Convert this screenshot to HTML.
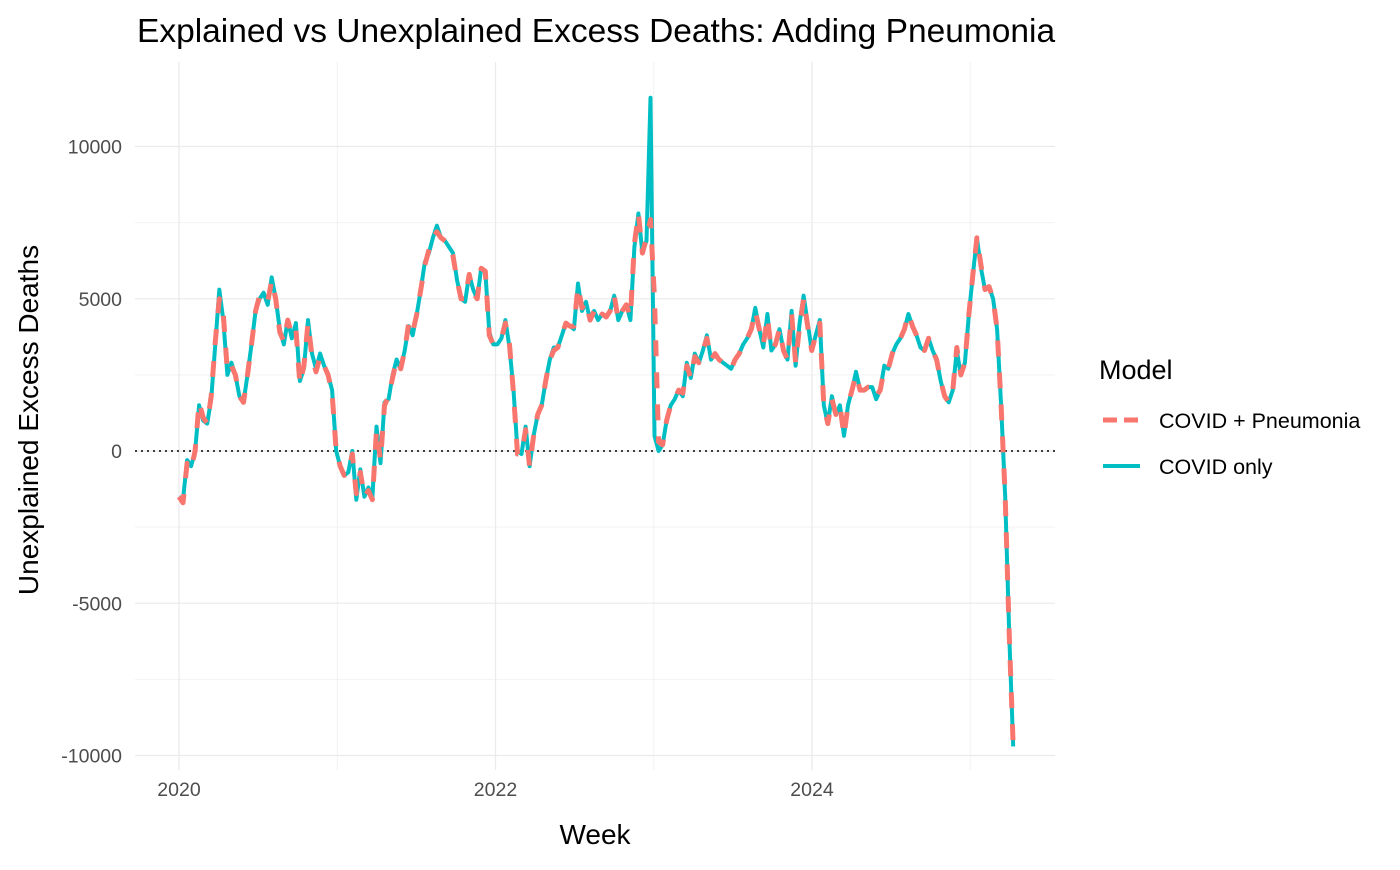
<!DOCTYPE html>
<html><head><meta charset="utf-8"><style>
body{margin:0;background:#fff;font-family:"Liberation Sans",Arial,sans-serif}
</style></head><body>
<svg id="chart" width="1400" height="865" xmlns="http://www.w3.org/2000/svg" style="font-family:'Liberation Sans',Arial,sans-serif">
<text x="137" y="42" font-size="33.5" fill="#000">Explained vs Unexplained Excess Deaths: Adding Pneumonia</text>
<g id="grid"></g>
<g id="axes"></g>
<g id="series"></g>
<text x="595" y="844" font-size="28" text-anchor="middle">Week</text>
<text transform="translate(38,420) rotate(-90)" font-size="28" text-anchor="middle">Unexplained Excess Deaths</text>
<g>
<text x="1099" y="379" font-size="27">Model</text>
<line x1="1103" y1="420" x2="1140" y2="420" stroke="#F8766D" stroke-width="5" stroke-dasharray="14 7"/>
<text x="1159" y="428" font-size="21.5">COVID + Pneumonia</text>
<line x1="1103" y1="466" x2="1140" y2="466" stroke="#00BFC4" stroke-width="4"/>
<text x="1159" y="474" font-size="21.5">COVID only</text>
</g>
</svg>
<script>
const yearTicks=[2020,2022,2024];
const yTicks=[-10000,-5000,0,5000,10000];
const yMinor=[-7500,-2500,2500,7500];
const weekStepYears=4.03/158.25;
const covidOnly=[-1500,-1600,-300,-500,0,1500,1000,900,1700,3500,5300,4300,2500,2900,2500,1800,1600,2500,3500,4600,5000,5200,4800,5700,5000,4000,3500,4300,3700,4200,2300,2700,4300,3200,2700,3200,2800,2500,2000,0,-500,-800,-700,0,-1600,-600,-1500,-1200,-1500,800,-400,1600,1700,2500,3000,2700,3300,4100,3800,4500,5300,6200,6500,7000,7400,7000,6900,6700,6500,5600,5000,4900,5800,5300,5000,6000,5900,3900,3500,3500,3700,4300,3400,2000,0,-100,800,-500,500,1200,1500,2300,3000,3400,3400,3800,4200,4100,4000,5500,4600,4900,4300,4600,4300,4500,4400,4600,5100,4300,4600,4800,4300,6700,7800,6500,6900,11600,500,0,200,1000,1500,1700,2000,1800,2900,2400,3200,2900,3300,3800,3000,3200,3000,2900,2800,2700,3000,3200,3500,3700,4000,4700,4000,3400,4500,3300,3500,4000,3300,3000,4600,2800,4200,5100,4200,3300,3800,4300,1500,900,1800,1200,1500,500,1500,2000,2600,2000,2000,2100,2100,1700,2000,2800,2700,3200,3500,3700,4000,4500,4100,3800,3400,3300,3700,3300,3000,2300,1800,1600,2000,3300,2500,2900,4500,5800,7000,6000,5300,5400,5000,4000,1500,-1500,-6000,-9700];
const covidPneumonia=[-1500,-1700,-400,-600,0,1600,1100,900,1800,3600,5000,4500,2600,2800,2500,1800,1600,2500,3500,4600,5100,5100,4900,5600,5000,3900,3600,4300,3800,4000,2200,2800,4200,3100,2600,3100,2800,2500,1900,0,-500,-800,-700,-100,-1400,-700,-1500,-1300,-1600,700,-300,1500,1800,2400,3000,2700,3300,4200,3900,4500,5300,6100,6600,7000,7200,7000,6900,6800,6400,5600,5000,5000,5800,5200,5000,6000,5900,3800,3500,3600,3700,4200,3500,1900,-100,-100,700,-500,500,1200,1500,2300,3000,3300,3400,3800,4200,4100,4100,5400,4700,4900,4300,4600,4300,4500,4400,4600,5100,4300,4600,4800,4400,6800,7800,6500,7000,7600,5000,300,200,1000,1500,1700,2000,1900,2800,2400,3100,2900,3300,3700,3000,3200,3000,2900,2800,2700,3000,3200,3500,3700,4000,4600,4000,3500,4400,3300,3500,4000,3300,3000,4500,2900,4100,5000,4100,3300,3800,4200,1500,900,1700,1200,1500,500,1500,2000,2500,2000,2000,2100,2100,1800,2000,2700,2700,3200,3500,3700,4000,4500,4100,3800,3400,3300,3700,3300,3000,2300,1800,1600,2000,3400,2500,2900,4500,5800,7000,6100,5300,5400,5000,4000,1500,-1500,-6000,-9700];
const NS='http://www.w3.org/2000/svg';
const X=y=>179+(y-2020)*158.25;
const Y=v=>451-v*0.03045;
const PL=135,PR=1055,PT=62,PB=770;
const grid=document.getElementById('grid'),axes=document.getElementById('axes'),ser=document.getElementById('series');
function mk(tag,attrs,parent){const e=document.createElementNS(NS,tag);for(const k in attrs)e.setAttribute(k,attrs[k]);parent.appendChild(e);return e;}
yMinor.forEach(v=>{const l=mk('line',{x1:PL,x2:PR,y1:Y(v),y2:Y(v),stroke:'#f2f2f2','stroke-width':1},grid);

});
[2021,2023,2025].forEach(v=>{const l=mk('line',{x1:X(v),x2:X(v),y1:PT,y2:PB,stroke:'#f2f2f2','stroke-width':1},grid);

});
yTicks.forEach(v=>{const l=mk('line',{x1:PL,x2:PR,y1:Y(v),y2:Y(v),stroke:'#ebebeb','stroke-width':1.3},grid);


const t=mk('text',{x:122,y:Y(v)+7,'text-anchor':'end','font-size':19.5,fill:'#4d4d4d'},axes);t.textContent=v;

});
yearTicks.forEach(v=>{const l=mk('line',{x1:X(v),x2:X(v),y1:PT,y2:PB,stroke:'#ebebeb','stroke-width':1.3},grid);


const t=mk('text',{x:X(v),y:796,'text-anchor':'middle','font-size':19.5,fill:'#4d4d4d'},axes);t.textContent=v;

});
const z=mk('line',{x1:PL,x2:PR,y1:Y(0),y2:Y(0),stroke:'#000','stroke-width':1.5,'stroke-dasharray':'2 4'},grid);


function path(vals){return vals.map((v,i)=>(i?'L':'M')+X(2020+i*weekStepYears).toFixed(1)+','+Y(v).toFixed(1)).join('');}
const p1=mk('path',{d:path(covidOnly),fill:'none',stroke:'#00BFC4','stroke-width':4,'stroke-linejoin':'round'},ser);


const p2=mk('path',{d:path(covidPneumonia),fill:'none',stroke:'#F8766D','stroke-width':5,'stroke-dasharray':'16 16','stroke-linejoin':'round'},ser);


</script>
</body></html>
